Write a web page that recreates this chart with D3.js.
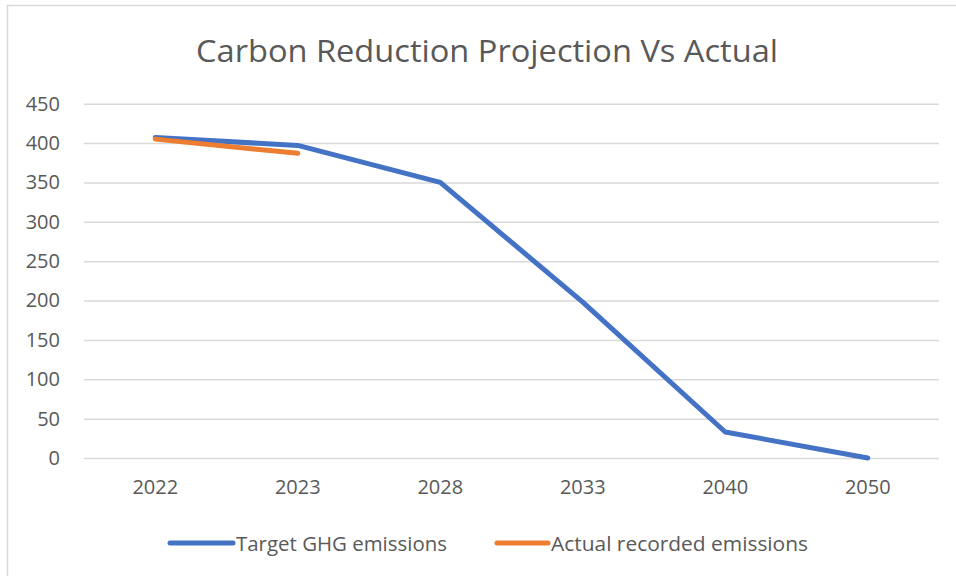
<!DOCTYPE html>
<html><head><meta charset="utf-8">
<script src="https://cdn.jsdelivr.net/npm/d3@7"></script>
<style>body{margin:0;background:#fff}svg{display:block}</style>
</head><body>
<script>
const categories = ["2022","2023","2028","2033","2040","2050"];
const targetValues = [407, 397, 350, 198, 33, 0];
const actualValues = [405, 387];
const yTicks = [0,50,100,150,200,250,300,350,400,450];
const seriesNames = ["Target GHG emissions","Actual recorded emissions"];
const colors = ["#4472C4","#ED7D31"];

(function(){
const W=956,H=576;
const svg=d3.select("body").append("svg").attr("width",W).attr("height",H);
const font="'Open Sans', 'Noto Sans', sans-serif";
svg.append("rect").attr("x",7.5).attr("y",5.5).attr("width",W+20).attr("height",H+20)
  .attr("fill","#fff").attr("stroke","#d9d9d9").attr("stroke-width",1.5);

const pLeft=84,pRight=939,pTop=103.7,pBottom=458;
const x=d3.scaleBand().domain(categories).range([pLeft,pRight]);
const y=d3.scaleLinear().domain([0,450]).range([pBottom,pTop]);

svg.append("text").attr("x",487).attr("y",62).attr("text-anchor","middle")
  .attr("font-family",font).attr("font-size",31).attr("fill","#595959")
  .attr("textLength",582).attr("lengthAdjust","spacingAndGlyphs")
  .text("Carbon Reduction Projection Vs Actual");

const ya=svg.append("g").attr("transform",`translate(${pLeft},0)`)
  .call(d3.axisLeft(y).tickValues(yTicks).tickSize(-(pRight-pLeft)).tickPadding(24));
ya.select(".domain").remove();
ya.selectAll("line").attr("stroke","#d9d9d9").attr("stroke-width",1.5);
ya.selectAll("text").attr("font-family",font).attr("font-size",20).attr("fill","#595959");

const xa=svg.append("g").attr("transform",`translate(0,${pBottom})`)
  .call(d3.axisBottom(x).tickSize(0).tickPadding(22));
xa.select(".domain").remove();
xa.selectAll("text").attr("font-family",font).attr("font-size",20).attr("fill","#595959");

const line=d3.line().x((d,i)=>x(categories[i])+x.bandwidth()/2).y(d=>y(d));
svg.append("path").datum(targetValues).attr("d",line).attr("fill","none")
  .attr("stroke",colors[0]).attr("stroke-width",5).attr("stroke-linecap","round").attr("stroke-linejoin","round");
svg.append("path").datum(actualValues).attr("d",line).attr("fill","none")
  .attr("stroke",colors[1]).attr("stroke-width",5).attr("stroke-linecap","round").attr("stroke-linejoin","round");

const legX=[168,495], legLen=[65,53], legTextW=[211,257];
seriesNames.forEach((n,i)=>{
  svg.append("line").attr("x1",legX[i]+2).attr("x2",legX[i]+legLen[i]).attr("y1",543).attr("y2",543)
    .attr("stroke",colors[i]).attr("stroke-width",5).attr("stroke-linecap","round");
  svg.append("text").attr("x",legX[i]+legLen[i]+3).attr("y",551).attr("font-family",font)
    .attr("font-size",20).attr("fill","#595959")
    .attr("textLength",legTextW[i]).attr("lengthAdjust","spacingAndGlyphs").text(n);
});
})();
</script>
</body></html>
